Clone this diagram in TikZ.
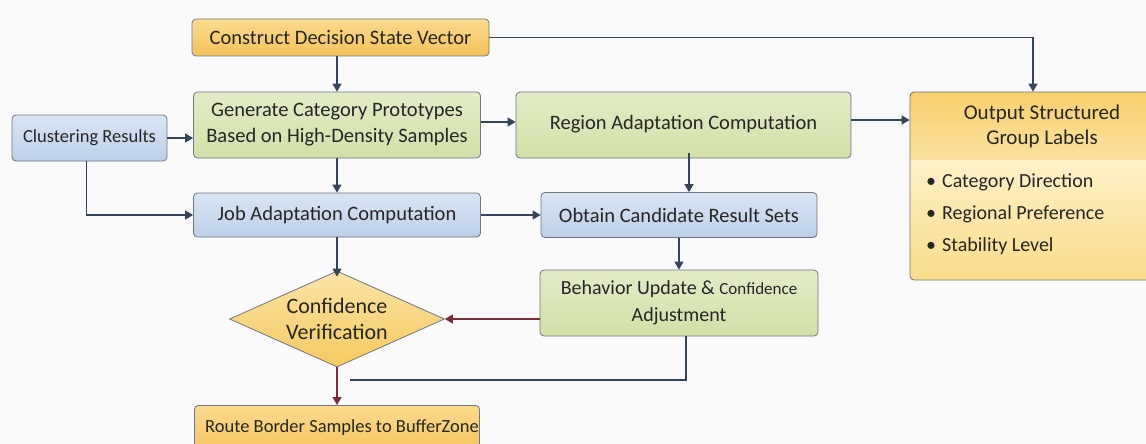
\documentclass[tikz,border=0pt]{standalone}
\usepackage{fontspec}
\setmainfont{Carlito}
\usetikzlibrary{shapes.geometric,arrows.meta}
\definecolor{bg}{HTML}{FAFAFA}
\definecolor{ln}{HTML}{34445A}
\definecolor{rd}{HTML}{7B2D3C}
\definecolor{bl}{HTML}{6F7680}
\definecolor{txt}{HTML}{262626}
\definecolor{ortop}{HTML}{FBDA8E}
\definecolor{orbot}{HTML}{F4C25A}
\definecolor{grtop}{HTML}{E3ECC6}
\definecolor{grbot}{HTML}{D2DFA8}
\definecolor{bltop}{HTML}{D9E5F4}
\definecolor{blbot}{HTML}{BDCFE8}
\definecolor{dtop}{HTML}{FBE4A4}
\definecolor{dbot}{HTML}{F5C95F}
\definecolor{htop}{HTML}{F8CF6C}
\definecolor{hbot}{HTML}{FBE2A0}
\definecolor{btop}{HTML}{FDF1C8}
\definecolor{bbot}{HTML}{F9DC8A}
\begin{document}
\begin{tikzpicture}[x=1pt,y=-1pt,
  box/.style={draw=bl, line width=0.8pt, rounded corners=4pt, align=center, inner sep=0pt,
    font=\fontsize{20.5}{26}\selectfont, text=txt},
  orbox/.style={box, top color=ortop, bottom color=orbot},
  grbox/.style={box, top color=grtop, bottom color=grbot},
  blbox/.style={box, top color=bltop, bottom color=blbot},
  arr/.style={-{Triangle[length=8pt,width=9pt]}, line width=1.3pt, draw=ln},
  rarr/.style={-{Triangle[length=8pt,width=9pt]}, line width=1.3pt, draw=rd},
  plain/.style={line width=1.3pt, draw=ln},
  lbl/.style={font=\fontsize{20}{24}\selectfont, text=txt, inner sep=0pt, anchor=west}
]
\fill[bg] (0,0) rectangle (1146,444);
\useasboundingbox (0,0) rectangle (1146,444);

\node[orbox, minimum width=297, minimum height=37] (cons) at (340.5,37.5) {Construct Decision State Vector};
\node[grbox, minimum width=287, minimum height=66] (gen) at (337,125) {Generate Category Prototypes\\Based on High-Density Samples};
\node[blbox, minimum width=155, minimum height=46, font=\fontsize{18.5}{24}\selectfont] (clu) at (89.5,138) {Clustering Results};
\node[grbox, minimum width=335, minimum height=66] (reg) at (683.5,125) {\raisebox{5pt}{Region Adaptation Computation}};
\node[blbox, minimum width=287, minimum height=44] (job) at (337,215) {Job Adaptation Computation};
\node[blbox, minimum width=276, minimum height=45] (obt) at (679,215) {Obtain Candidate Result Sets};
\node[grbox, minimum width=278, minimum height=66, font=\fontsize{20}{27}\selectfont] (beh) at (679,303) {Behavior Update \& {\fontsize{17}{20}\selectfont Confidence}\\Adjustment};
\node[draw=bl, line width=0.8pt, shape=diamond, minimum width=215, minimum height=96, inner sep=0pt,
  top color=dtop, bottom color=dbot] (dia) at (337,319) {};
\node[align=center, font=\fontsize{22}{26}\selectfont, text=txt, inner sep=0pt] (diat) at (dia.center) {Confidence\\Verification};
\node[orbox, minimum width=285, minimum height=50, anchor=north, font=\fontsize{18.5}{24}\selectfont] (route) at (337,405) {\raisebox{9pt}{\hspace{10pt}Route Border Samples to BufferZone}};

% output box
\begin{scope}
  \clip[rounded corners=4pt] (910,92) rectangle (1152,280);
  \fill[top color=htop, bottom color=hbot] (910,92) rectangle (1152,160);
  \fill[top color=btop, bottom color=bbot] (910,160) rectangle (1152,280);
\end{scope}
\node[draw=bl, line width=0.8pt, rounded corners=4pt, minimum width=242, minimum height=188, inner sep=0pt] (out) at (1031,186) {};
\node[font=\fontsize{21}{25}\selectfont, text=txt, align=center, inner sep=0pt] (outt) at (1042,126) {Output Structured\\Group Labels};
\node[lbl] (b1) at (926,182) {•\hspace{6pt}Category Direction};
\node[lbl] (b2) at (926,214) {•\hspace{6pt}Regional Preference};
\node[lbl] (b3) at (926,246) {•\hspace{6pt}Stability Level};

% connectors
\draw[arr] (gen.north |- cons.south) -- (gen.north);
\draw[arr] (cons.east) -| ([xshift=2pt]out.north);
\draw[arr] (clu.east) -- (clu.east -| gen.west);
\draw[arr] ([xshift=-3pt]clu.south) |- (job.west);
\draw[arr] ([yshift=3pt]gen.east) -- ([yshift=3pt]reg.west);
\draw[arr] (gen.south) -- (job.north);
\draw[arr] ([yshift=5pt]reg.east) -- ([yshift=5pt]reg.east -| out.west);
\draw[arr] ([xshift=10pt,yshift=5pt]obt.north |- reg.south) -- ([xshift=10pt]obt.north);
\draw[arr] (job.east) -- (job.east -| obt.west);
\draw[arr] (job.south) -- ([yshift=-6pt]dia.north);
\draw[arr] (obt.south) -- (beh.north);
\draw[rarr] (beh.west |- dia.east) -- (dia.east);
\coordinate (fb) at (350,380);
\draw[plain] ([xshift=7pt]beh.south) |- (fb);
\draw[rarr] (dia.south) -- (route.north);
\end{tikzpicture}
\end{document}
